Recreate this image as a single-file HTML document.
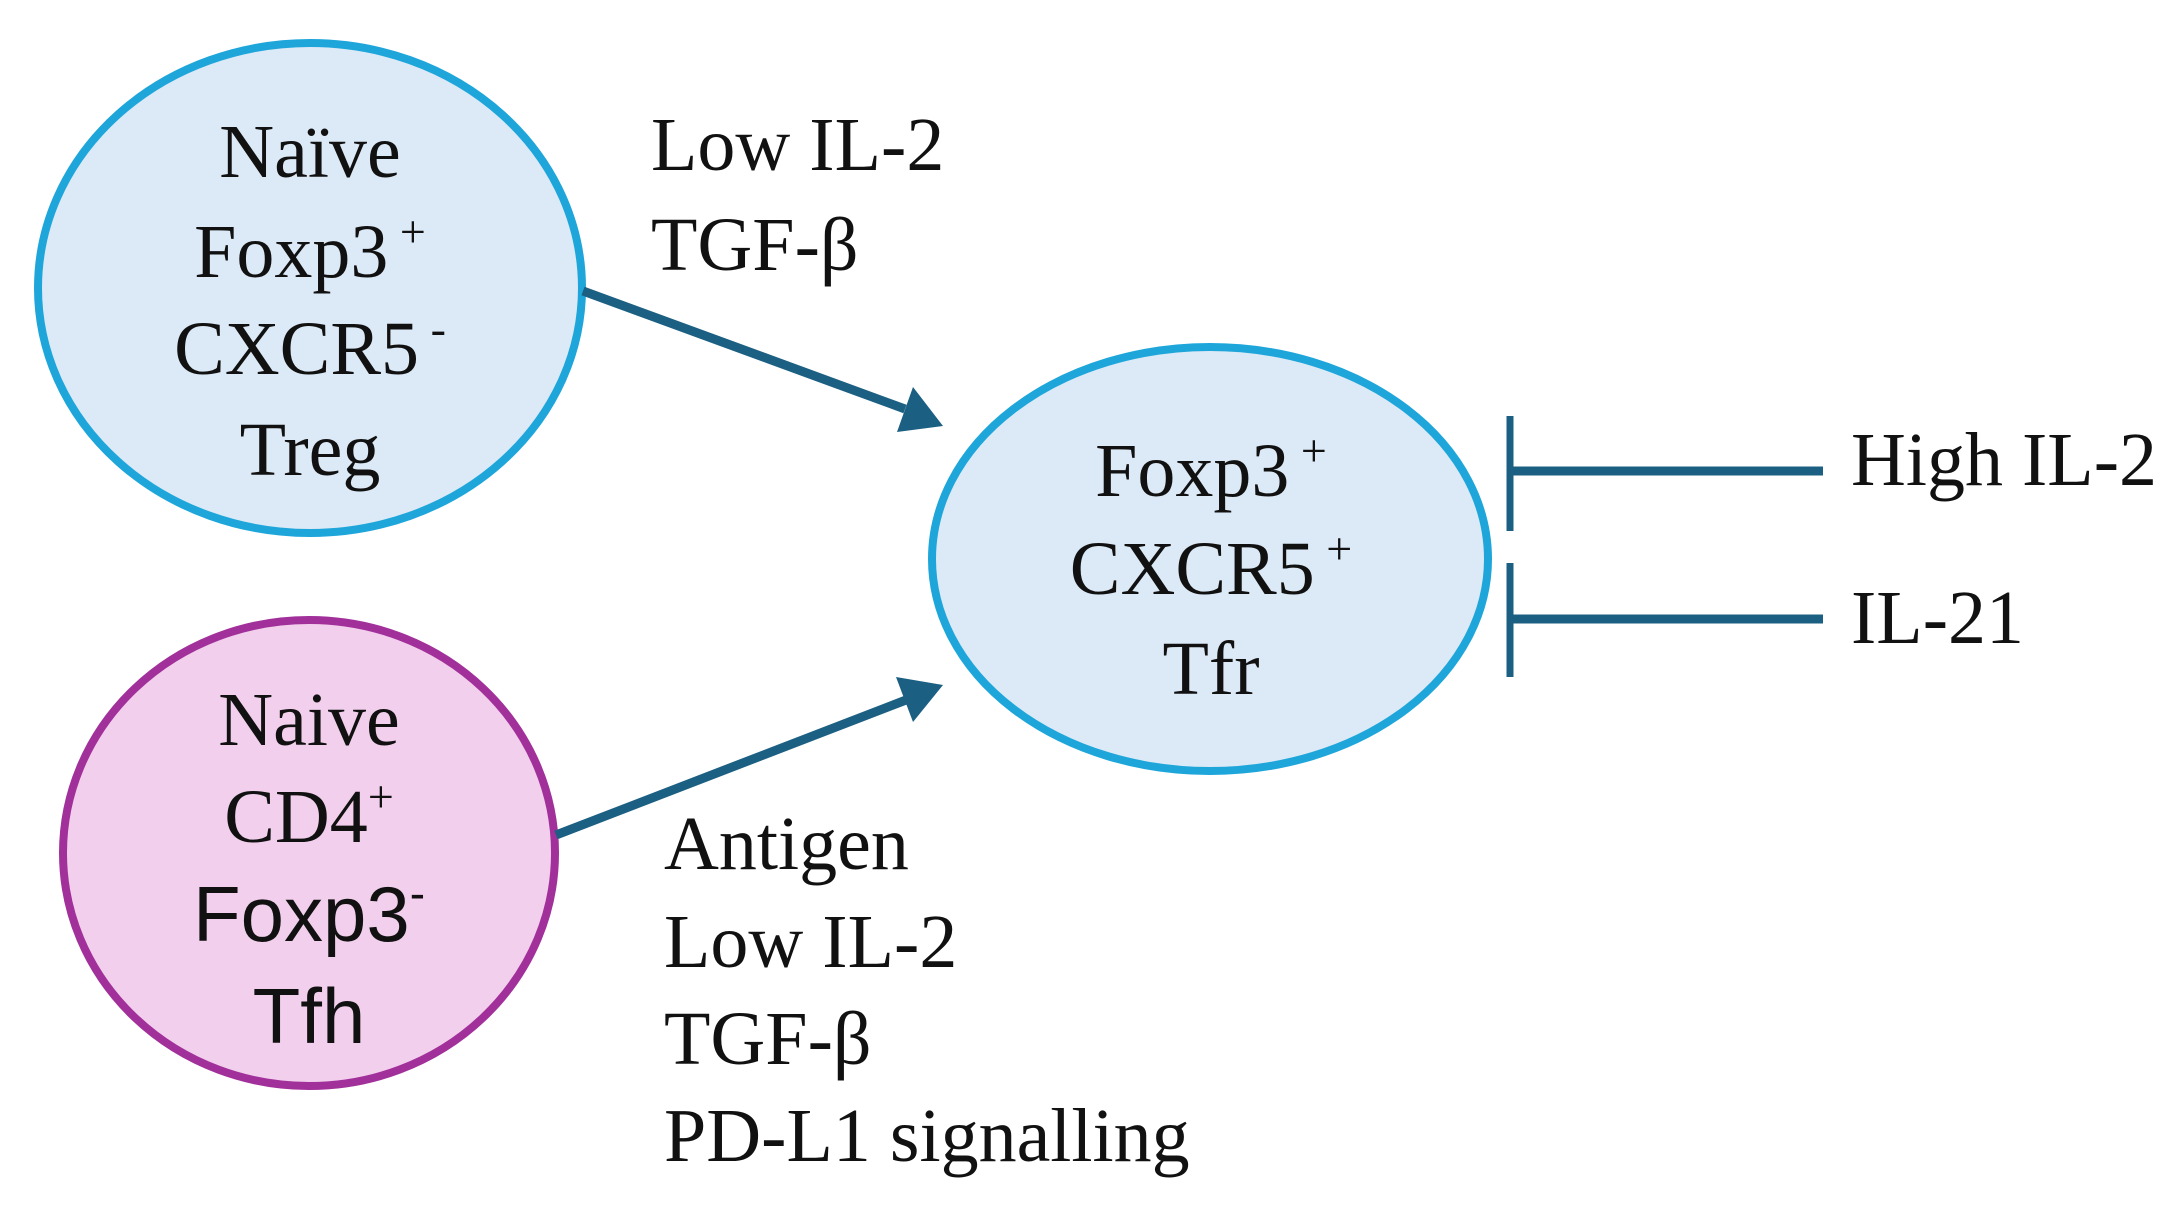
<!DOCTYPE html>
<html><head><meta charset="utf-8"><style>
html,body{margin:0;padding:0;background:#fff;}
svg{display:block}
text{font-family:"Liberation Serif",serif;font-size:76px;fill:#111;}
.a{font-family:"Liberation Sans",sans-serif;font-size:78px;}
</style></head><body>
<svg width="2179" height="1219" viewBox="0 0 2179 1219">
<ellipse cx="310" cy="288" rx="272" ry="245" fill="#dce9f6" stroke="#1ea6da" stroke-width="8"/>
<ellipse cx="309" cy="853" rx="246" ry="233" fill="#f2cfec" stroke="#a1309a" stroke-width="8"/>
<ellipse cx="1210" cy="559" rx="278" ry="212" fill="#dce9f6" stroke="#1ea6da" stroke-width="8"/>

<line x1="583" y1="291" x2="905" y2="409" stroke="#1b5f82" stroke-width="9"/>
<polygon points="943,426 897,432 913,387" fill="#1b5f82"/>
<line x1="556" y1="835" x2="906" y2="700" stroke="#1b5f82" stroke-width="9"/>
<polygon points="943,685 913,722 896,677" fill="#1b5f82"/>

<line x1="1510" y1="416" x2="1510" y2="531" stroke="#1b5f82" stroke-width="7"/>
<line x1="1510" y1="471" x2="1823" y2="471" stroke="#1b5f82" stroke-width="9"/>
<line x1="1510" y1="563" x2="1510" y2="677" stroke="#1b5f82" stroke-width="7"/>
<line x1="1510" y1="619" x2="1823" y2="619" stroke="#1b5f82" stroke-width="9"/>

<g text-anchor="middle">
<text x="310" y="177">Naïve</text>
<text x="310" y="277">Foxp3<tspan font-size="46" dy="-30"> +</tspan></text>
<text x="310" y="374">CXCR5<tspan font-size="46" dy="-30"> -</tspan></text>
<text x="310" y="475">Treg</text>
<text x="309" y="745">Naive</text>
<text x="309" y="842">CD4<tspan font-size="46" dy="-30">+</tspan></text>
<text class="a" x="309" y="941">Foxp3<tspan font-size="46" dy="-32">-</tspan></text>
<text class="a" x="309" y="1043">Tfh</text>
<text x="1211" y="496">Foxp3<tspan font-size="46" dy="-30"> +</tspan></text>
<text x="1211" y="594">CXCR5<tspan font-size="46" dy="-30"> +</tspan></text>
<text x="1211" y="694">Tfr</text>
</g>
<text x="651" y="170">Low IL-2</text>
<text x="651" y="270">TGF-β</text>
<text x="664" y="869">Antigen</text>
<text x="664" y="967">Low IL-2</text>
<text x="664" y="1064">TGF-β</text>
<text x="664" y="1161">PD-L1 signalling</text>
<text x="1851" y="485">High IL-2</text>
<text x="1851" y="643">IL-21</text>
</svg>
</body></html>
